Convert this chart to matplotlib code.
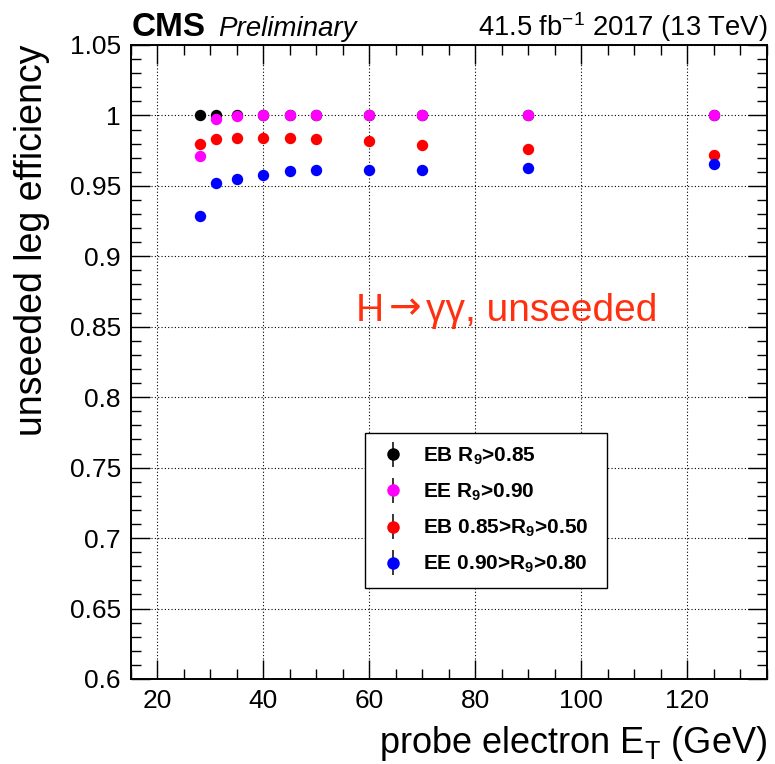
import numpy as np
import matplotlib
matplotlib.use("Agg")
import matplotlib.pyplot as plt
from matplotlib.ticker import MultipleLocator, FixedLocator
from matplotlib.legend_handler import HandlerErrorbar
from matplotlib.container import ErrorbarContainer

plt.rcParams['font.family'] = ['Liberation Sans', 'DejaVu Sans']
plt.rcParams['mathtext.fontset'] = 'custom'
plt.rcParams['mathtext.rm'] = 'Liberation Sans'
plt.rcParams['mathtext.it'] = 'Liberation Sans:italic'
plt.rcParams['mathtext.bf'] = 'Liberation Sans:bold'

# probe electron ET bins (GeV)
et = [28, 31, 35, 40, 45, 50, 60, 70, 90, 125]

# efficiencies
eff_eb_hi = [1.000, 1.000, 1.000, 1.000, 1.000, 1.000, 1.000, 1.000, 1.000, 1.000]
eff_ee_hi = [0.971, 0.9975, 0.9996, 1.000, 1.000, 1.000, 1.000, 1.000, 1.000, 1.000]
eff_eb_lo = [0.980, 0.983, 0.9838, 0.984, 0.9842, 0.9835, 0.9816, 0.979, 0.9764, 0.9722]
eff_ee_lo = [0.9286, 0.9523, 0.9551, 0.958, 0.9608, 0.9611, 0.9611, 0.961, 0.9625, 0.9653]
err = [0.001] * len(et)

labels = ["EB $\\mathbf{R_9}$>0.85", "EE $\\mathbf{R_9}$>0.90",
          "EB 0.85>$\\mathbf{R_9}$>0.50", "EE 0.90>$\\mathbf{R_9}$>0.80"]
colors = ["black", "#ff00ff", "#ff0000", "#0000ff"]
series = [eff_eb_hi, eff_ee_hi, eff_eb_lo, eff_ee_lo]

fig = plt.figure(figsize=(7.75, 7.64), dpi=100)
ax = fig.add_axes([0.1686, 0.1113, 0.821, 0.8298])

handles = []
for s, c, lab in zip(series, colors, labels):
    h = ax.errorbar(et, s, yerr=err, fmt='o', color=c, ms=8.2, mew=0,
                    ecolor='black', elinewidth=1.1, capsize=3.5, capthick=1.1, label=lab)
    handles.append(h)

ax.set_xlim(15, 135)
ax.set_ylim(0.6, 1.05)
ax.xaxis.set_major_locator(MultipleLocator(20))
ax.xaxis.set_minor_locator(MultipleLocator(5))
ax.yaxis.set_major_locator(FixedLocator(np.round(np.arange(0.6, 1.051, 0.05), 2)))
ax.yaxis.set_minor_locator(MultipleLocator(0.01))
ax.set_yticklabels(["0.6", "0.65", "0.7", "0.75", "0.8", "0.85", "0.9", "0.95", "1", "1.05"])

ax.grid(True, which='major', color='black', linestyle=(0, (1, 2)), linewidth=0.8)
ax.tick_params(which='both', direction='in', top=True, right=True, width=1, labelsize=19)
ax.tick_params(which='major', length=14, pad=7)
ax.tick_params(which='minor', length=7)
for sp in ax.spines.values():
    sp.set_linewidth(1.4)

ax.set_xlabel("probe electron E$_\\mathrm{T}$ (GeV)", fontsize=26, ha='right', x=1.0, labelpad=8)
ax.set_ylabel("unseeded leg efficiency", fontsize=27, ha='right', y=1.0)
ax.yaxis.set_label_coords(-0.127, 1.0)

# H -> gamma gamma label, arrow taken from DejaVu Sans
red = '#ff3010'
t1 = ax.text(57.5, 0.8543, "H", color=red, fontsize=28)
t2 = ax.annotate("\u2192", xy=(1, 0), xycoords=t1, color=red, fontsize=28,
                 family='DejaVu Sans', va='bottom', xytext=(3, 1), textcoords='offset points')
ax.annotate("\u03b3\u03b3, unseeded", xy=(1, 0), xycoords=t2, color=red, fontsize=28,
            va='bottom', xytext=(4, -1), textcoords='offset points')

ax.text(0.002, 1.0142, "CMS", transform=ax.transAxes, fontsize=24, fontweight='bold', va='baseline')
ax.text(0.137, 1.0142, "Preliminary", transform=ax.transAxes, fontsize=20, style='italic', va='baseline')
ax.text(1.0, 1.0142, "41.5 fb$^{-1}$ 2017 (13 TeV)", transform=ax.transAxes, fontsize=19.7,
        ha='right', va='baseline')

leg = ax.legend(handles=handles, loc='lower left', bbox_to_anchor=(0.368, 0.1435, 0.381, 0.246),
                mode='expand', fancybox=False, edgecolor='black', framealpha=1,
                prop={'weight': 'bold', 'size': 15}, labelspacing=0.72, borderpad=0.6,
                handlelength=1.5, handletextpad=0.7, borderaxespad=0, markerscale=1.1,
                handler_map={ErrorbarContainer: HandlerErrorbar(yerr_size=0.6)})
leg.get_frame().set_linewidth(1)

fig.savefig("out.png", dpi=100)
